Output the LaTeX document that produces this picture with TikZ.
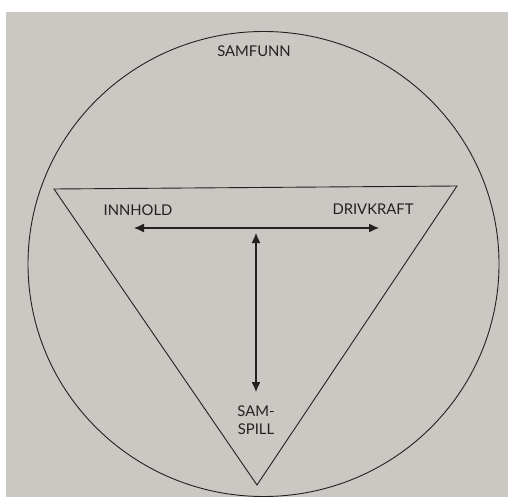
\documentclass[tikz,border=0pt]{standalone}
\usepackage{fontspec}
\setmainfont{Lato}
\usetikzlibrary{arrows.meta}
\definecolor{papir}{RGB}{203,199,195}
\definecolor{blekk}{RGB}{35,33,32}
\tikzset{
  etikett/.style={font=\fontsize{14.8}{17}\selectfont,text=blekk,inner sep=0pt,align=center},
  kant/.style={draw=blekk,line width=0.9pt},
  pil/.style={{Latex[length=10pt,width=9pt]}-{Latex[length=10pt,width=9pt]},draw=blekk,line width=1.2pt},
}

\begin{document}
\begin{tikzpicture}[x=1pt,y=-1pt]
  \useasboundingbox (0,0) rectangle (508,497);
  \fill[white] (0,0) rectangle (508,497);
  \fill[papir] (6,12) rectangle (508,497);
  \begin{scope}
    \clip (0,0) rectangle (508,497);
    \draw[kant] (263.5,264) ellipse [x radius=235.5, y radius=232.5];
  \end{scope}
  % trekanten
  \coordinate (tv) at (54,189);
  \coordinate (th) at (457,186);
  \coordinate (tb) at (257,485);
  \draw[kant,line join=miter] (tv) -- (th) -- (tb) -- cycle;
  % tekster
  \node[etikett] (samfunn) at (254,51) {SAMFUNN};
  \node[etikett] (innhold) at (138,210.5) {INNHOLD};
  \node[etikett] (drivkraft) at (373,209) {DRIVKRAFT};
  \node[etikett] (samspill) at (256,420) {SAM-\\[1pt]SPILL};
  % piler
  \coordinate (pv) at (134,228);
  \coordinate (ph) at (379,228);
  \coordinate (po) at (256,233);
  \coordinate (pn) at (256,392);
  \draw[pil] (pv) -- (ph);
  \draw[pil] (po) -- (pn);
\end{tikzpicture}
\end{document}
